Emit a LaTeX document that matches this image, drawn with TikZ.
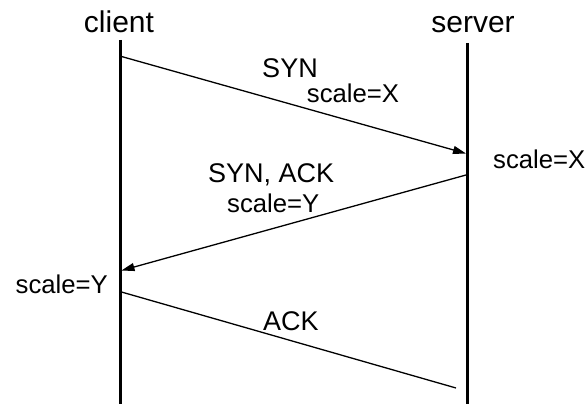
\documentclass[tikz,border=0pt]{standalone}
\usepackage{fontspec}
\setmainfont{Liberation Sans}
\usetikzlibrary{arrows.meta}
\begin{document}
\begin{tikzpicture}[x=1pt,y=-1pt,
  lifeline/.style={line width=3pt},
  msg/.style={line width=1.3pt},
  msgarrow/.style={msg,-{Triangle[length=13pt,width=8pt]}},
  endpoint/.style={font=\fontsize{30}{35}\selectfont,inner sep=0pt,anchor=base},
  msglabel/.style={font=\fontsize{27}{32}\selectfont,inner sep=0pt},
  scalelabel/.style={font=\fontsize{25.7}{30}\selectfont,inner sep=0pt}]
\useasboundingbox (0,0) rectangle (588,404);
% endpoints
\node[endpoint] (client) at (119,33) {client};
\node[endpoint] (server) at (473,33) {server};
\coordinate (ctop) at (120,40);
\coordinate (cbot) at (120,404);
\coordinate (stop) at (467.5,43);
\coordinate (sbot) at (467.5,404);
\draw[lifeline] (ctop) -- (cbot);
\draw[lifeline] (stop) -- (sbot);
% message points
\coordinate (syn0) at (121.5,56.5);
\coordinate (syn1) at (466,153.5);
\coordinate (sa0) at (466,175);
\coordinate (sa1) at (121.5,270.5);
\coordinate (ack0) at (121.5,292);
\coordinate (ack1) at (456,388);
\draw[msgarrow] (syn0) -- (syn1);
\draw[msgarrow] (sa0) -- (sa1);
\draw[msg] (ack0) -- (ack1);
% labels
\node[msglabel,anchor=base] (synl) at (290,77) {SYN};
\node[scalelabel,anchor=base] (synsc) at (353,102) {scale=X};
\node[scalelabel,anchor=base west] (srvsc) at (493,168) {scale=X};
\node[msglabel,anchor=base west] (sal) at (208,182) {SYN, ACK};
\node[scalelabel,anchor=base west] (sasc) at (227,212) {scale=Y};
\node[scalelabel,anchor=base east] (clisc) at (108,293) {scale=Y};
\node[msglabel,anchor=base west] (ackl) at (263,330) {ACK};
\end{tikzpicture}
\end{document}
